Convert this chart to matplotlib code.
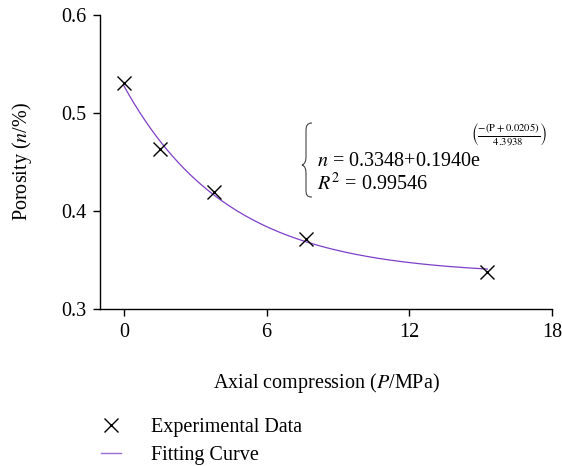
import numpy as np
import matplotlib
matplotlib.use("Agg")
import matplotlib.pyplot as plt
from matplotlib.lines import Line2D
from matplotlib.path import Path
from matplotlib.patches import PathPatch

pressure = [0.0, 1.54, 3.79, 7.64, 15.28]
porosity = [0.531, 0.463, 0.419, 0.371, 0.338]

# fitted exponential model
fit_a, fit_b, fit_c, fit_t = 0.3348, 0.1940, 0.0205, 4.3938
r_squared = 0.99546

x_ticks = [0, 6, 12, 18]
y_ticks = [0.3, 0.4, 0.5, 0.6]

plt.rcParams["font.family"] = ["Liberation Serif", "DejaVu Serif"]
plt.rcParams["mathtext.fontset"] = "stix"

W, H = 562, 466
fig = plt.figure(figsize=(W / 100, H / 100), dpi=100)
ax = fig.add_axes([100 / W, 1 - 309 / H, 452 / W, 294 / H])


def px(x, y):
    # pixel position (from top-left) -> figure fraction
    return x / W, 1 - y / H


p = np.linspace(0, max(pressure), 200)
n_fit = fit_a + fit_b * np.exp(-(p + fit_c) / fit_t)
ax.plot(p, n_fit, color="#7d3fc9", lw=0.9, zorder=2)
ax.plot(pressure, porosity, ls="none", marker="x", ms=10, mew=1.0,
        color="black", zorder=3)

ax.set_xlim(-1, 18)
ax.set_ylim(0.3, 0.6)
ax.set_xticks(x_ticks)
ax.set_xticklabels([str(t) for t in x_ticks])
ax.set_yticks(y_ticks)
ax.set_yticklabels([f"{t:.1f}" for t in y_ticks])
for s in ["top", "right"]:
    ax.spines[s].set_visible(False)
for s in ["left", "bottom"]:
    ax.spines[s].set_linewidth(1.0)
ax.tick_params(direction="out", length=5, width=1.0, labelsize=14.5, pad=5)

ax.set_xlabel(r"Axial compression ($\mathit{P}$/MPa)", fontsize=14.5, labelpad=21)
ax.set_ylabel(r"Porosity ($\mathit{n}$/%)", fontsize=14.5, labelpad=19)

# curly brace drawn as a thin path (pixel coords -> figure fraction)
brace_px = [(312, 123),
            (307, 123), (306, 126), (306, 131),
            (306, 156),
            (306, 161), (305, 164), (302, 165),
            (305, 166), (306, 169), (306, 174),
            (306, 190),
            (306, 195), (307, 197), (312, 197)]
codes = [Path.MOVETO,
         Path.CURVE4, Path.CURVE4, Path.CURVE4,
         Path.LINETO,
         Path.CURVE4, Path.CURVE4, Path.CURVE4,
         Path.CURVE4, Path.CURVE4, Path.CURVE4,
         Path.LINETO,
         Path.CURVE4, Path.CURVE4, Path.CURVE4]
brace = Path([px(x, y) for x, y in brace_px], codes)
fig.add_artist(PathPatch(brace, fill=False, lw=0.8, color="#444444",
                         transform=fig.transFigure))

# equation annotation
fig.text(*px(317, 161), rf"$\mathit{{n}}$ = {fit_a:.4f}+{fit_b:.4f}e",
         fontsize=14.5, ha="left", va="center")
fig.text(*px(471, 135),
         rf"$\left(\frac{{-(\mathrm{{P}}+{fit_c})}}{{{fit_t}}}\right)$",
         fontsize=11, ha="left", va="center")
fig.text(*px(317, 184), rf"$\mathit{{R}}^2$ = {r_squared}",
         fontsize=14.5, ha="left", va="center")

handles = [
    Line2D([], [], ls="none", marker="x", ms=10, mew=1.0, color="black"),
    Line2D([], [], color="#9a6bd6", lw=1.0),
]
fig.legend(handles, ["Experimental Data", "Fitting Curve"],
           loc="upper left", bbox_to_anchor=px(101, 418),
           frameon=False, fontsize=14.5, handlelength=1.0, borderpad=0,
           borderaxespad=0, handletextpad=1.5, labelspacing=0.45)

fig.savefig("out.png", dpi=100, facecolor="white")
